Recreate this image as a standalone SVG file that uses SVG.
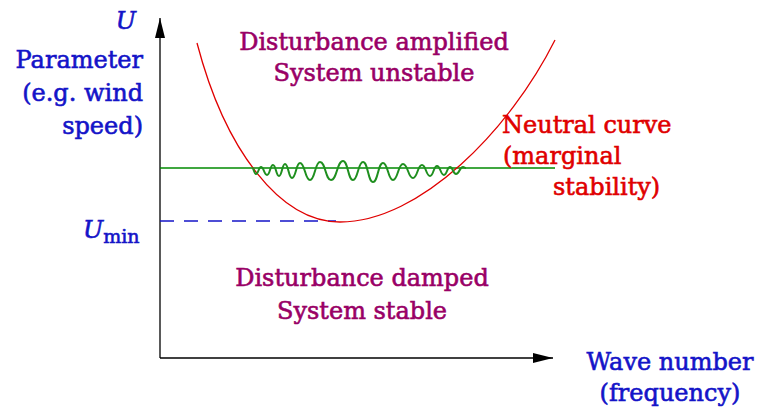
<svg xmlns="http://www.w3.org/2000/svg" width="758" height="410" viewBox="0 0 758 410">
<style>
text{font-family:"DejaVu Serif","Liberation Serif",serif;font-size:24px;stroke-width:0.6}
.b{fill:#1414c8;stroke:#1414c8}
.p{fill:#990066;stroke:#990066}
.r{fill:#e00000;stroke:#e00000}
.ax{stroke:#000;stroke-width:1.3;fill:none}
</style>
<defs>
<marker id="ah" viewBox="0 0 20 10" refX="20" refY="5" markerWidth="20" markerHeight="10" markerUnits="userSpaceOnUse" orient="auto">
<path d="M0,0 L20,5 L0,10 Z" fill="#000"/>
</marker>
</defs>
<rect width="758" height="410" fill="#fff"/>
<g id="connectors">
<path class="ax" d="M160,358 V18" marker-end="url(#ah)"/>
<path class="ax" d="M160,358 H553" marker-end="url(#ah)"/>
<path d="M160,168 H555" stroke="#008a00" stroke-width="1.3" fill="none"/>
<path d="M160,221 H336" stroke="#1414c8" stroke-width="1.3" stroke-dasharray="14,10" fill="none"/>
<path d="M197,43 C225,150 280,222 340,222 C420,222 510,130 555,40" stroke="#e00000" stroke-width="1.3" fill="none"/>
<path d="M252,168 C254,168 254,174 256,174 C258.5,174 258.5,167 261,167 C264,167 264,175 267,175 C270,175 270,165 273,165 C276,165 276,176 279,176 C282,176 282,164 285,164 C288.5,164 288.5,178 292,178 C296,178 296,163 300,163 C305,163 305,180 310,180 C315,180 315,162 320,162 C325.5,162 325.5,180 331,180 C337,180 337,161 343,161 C348,161 348,180 353,180 C358,180 358,162 363,162 C368,162 368,182 373,182 C378,182 378,163 383,163 C388,163 388,180 393,180 C398,180 398,164 403,164 C408,164 408,178 413,178 C417.5,178 417.5,165 422,165 C426,165 426,176 430,176 C433.5,176 433.5,166 437,166 C440.5,166 440.5,175 444,175 C447,175 447,167 450,167 C453,167 453,174 456,174 C459.5,174 459.5,167 463,167 C464.5,167 464.5,168 466,168" stroke="#1f8f1f" stroke-width="2" fill="none"/>
</g>
<g id="y-label">
<text class="b" x="136" y="29" text-anchor="end" font-style="italic" font-size="25">U</text>
<text class="b" x="143" y="68" text-anchor="end">Parameter</text>
<text class="b" x="143" y="101" text-anchor="end">(e.g. wind</text>
<text class="b" x="143" y="134" text-anchor="end">speed)</text>
</g>
<g id="umin-label">
<text class="b" x="83" y="238" font-style="italic" font-size="28">U<tspan font-size="19" font-style="normal" dy="5">min</tspan></text>
</g>
<g id="x-label">
<text class="b" x="670" y="370" text-anchor="middle">Wave number</text>
<text class="b" x="670" y="401" text-anchor="middle">(frequency)</text>
</g>
<g id="unstable-region">
<text class="p" x="374" y="50" text-anchor="middle">Disturbance amplified</text>
<text class="p" x="374" y="81" text-anchor="middle">System unstable</text>
</g>
<g id="stable-region">
<text class="p" x="362" y="286" text-anchor="middle">Disturbance damped</text>
<text class="p" x="362" y="319" text-anchor="middle">System stable</text>
</g>
<g id="neutral-label">
<text class="r" x="502" y="133">Neutral curve</text>
<text class="r" x="503" y="164">(marginal</text>
<text class="r" x="553" y="195">stability)</text>
</g>
</svg>
